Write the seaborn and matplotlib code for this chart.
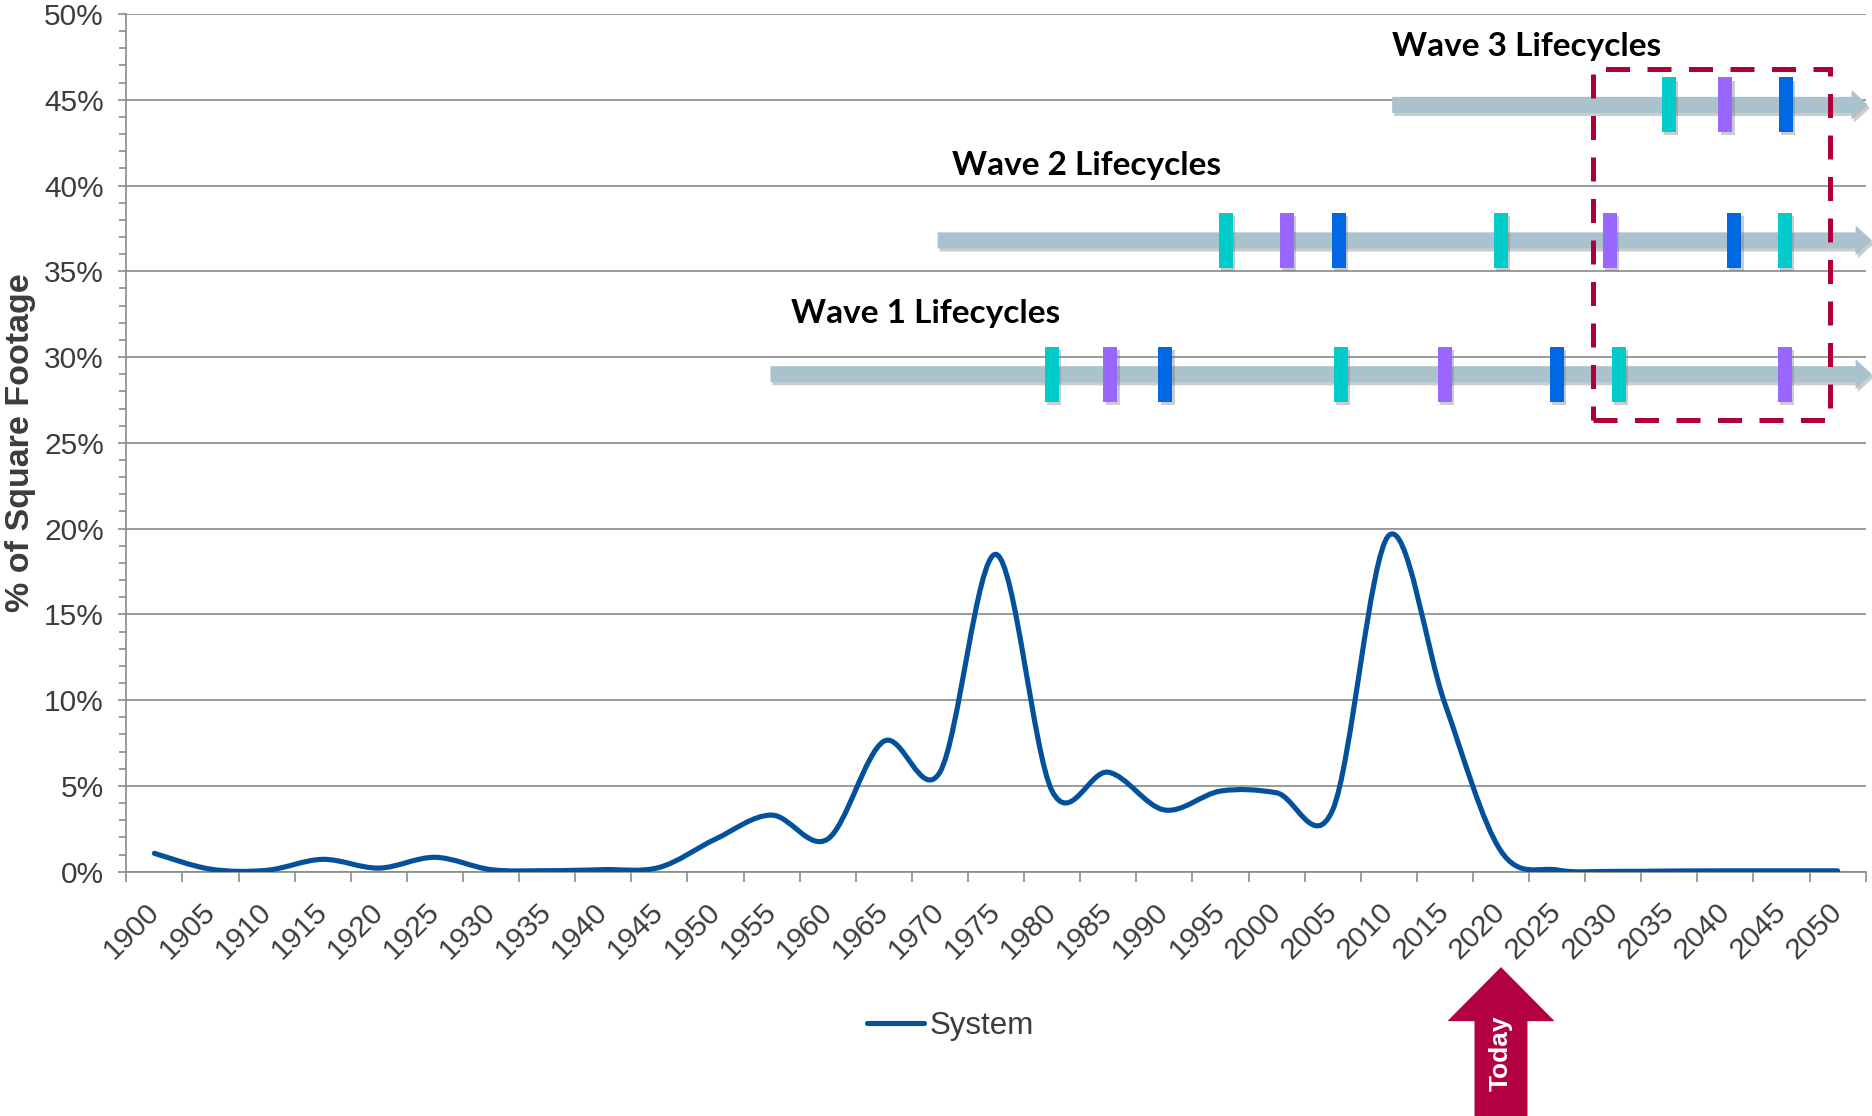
import numpy as np
import pandas as pd
import matplotlib
matplotlib.use("Agg")
import matplotlib.pyplot as plt
import matplotlib.patheffects as pe
import seaborn as sns
from matplotlib.path import Path
from matplotlib.patches import PathPatch, Polygon, Rectangle
from matplotlib.lines import Line2D
from matplotlib.ticker import MultipleLocator, FixedLocator, FuncFormatter

# ---- data -------------------------------------------------------------
years = list(range(1900, 2051, 5))
share = [1.07, 0.15, 0.08, 0.72, 0.21, 0.84, 0.12, 0.06, 0.12, 0.25,
         1.9, 3.3, 1.9, 7.6, 5.8, 18.5, 4.7, 5.8, 3.6, 4.7,
         4.6, 3.6, 19.6, 9.8, 1.2, 0.1, 0.02, 0.04, 0.05, 0.05, 0.05]
series_name = "System"

# lifecycle renewals (year markers) for each construction wave
wave_titles = ["Wave 1 Lifecycles", "Wave 2 Lifecycles", "Wave 3 Lifecycles"]
wave_start = [1954.9, 1969.8, 2010.3]
wave1_cyan, wave1_purple, wave1_blue = [1980.0, 2005.7, 2030.5], [1985.2, 2015.0, 2045.3], [1990.1, 2025.0]
wave2_cyan, wave2_purple, wave2_blue = [1995.5, 2020.0, 2045.3], [2000.9, 2029.7], [2005.6, 2040.8]
wave3_cyan, wave3_purple, wave3_blue = [2035.0], [2040.0], [2045.4]
today_year = 2020

# ---- styling ----------------------------------------------------------
LINE = "#03509B"
GRID = "#8A8A8A"
TXT = "#3C3C3C"
BAND = "#A9C2CE"
CYAN, PURPLE, BLUE = "#00CCCC", "#9966FF", "#0068E3"
CRIMSON = "#B0003C"

sns.set_theme(style="white")
plt.rcParams["font.family"] = ["Liberation Sans", "DejaVu Sans"]

fig = plt.figure(figsize=(18.72, 11.16), dpi=100)
ax = fig.add_axes([0.06747, 0.21891, 0.92917, 0.76855])


def smooth_path(xy):
    """Cubic Bezier through every point (Catmull-Rom style smoothing)."""
    pts = np.asarray(xy, dtype=float)
    n = len(pts)
    verts, codes = [pts[0]], [Path.MOVETO]
    for i in range(n - 1):
        p0 = pts[i - 1] if i > 0 else pts[i]
        p1, p2 = pts[i], pts[i + 1]
        p3 = pts[i + 2] if i + 2 < n else pts[i + 1]
        verts += [p1 + (p2 - p0) / 6.0, p2 - (p3 - p1) / 6.0, p2]
        codes += [Path.CURVE4] * 3
    return Path(verts, codes)


# ---- main series ------------------------------------------------------
df = pd.DataFrame({"year": years, "share": share})
sns.lineplot(data=df, x="year", y="share", ax=ax, color=LINE, linewidth=3.7,
             legend=False)
raw = ax.lines[-1]
curve = PathPatch(smooth_path(raw.get_xydata()), facecolor="none", edgecolor=LINE,
                  lw=3.7, capstyle="round", joinstyle="round", zorder=4)
ax.add_patch(curve)
raw.remove()

# ---- axes -------------------------------------------------------------
ax.set_xlim(1897.5, 2052.5)
ax.set_ylim(0, 50)
ax.set_xlabel("")
ax.set_ylabel("% of Square Footage", fontsize=24.5, fontweight="bold", color=TXT)
ax.yaxis.label.set_verticalalignment("center")
ax.yaxis.set_label_coords(-0.0610, 0.5)

ax.yaxis.set_major_locator(MultipleLocator(5))
ax.yaxis.set_minor_locator(MultipleLocator(1))
ax.yaxis.set_major_formatter(FuncFormatter(lambda v, _: f"{v:.0f}%"))

ax.set_xticks(years)
ax.set_xticklabels([str(y) for y in years], rotation=45, ha="right",
                   va="center", rotation_mode="anchor")
ax.xaxis.set_minor_locator(FixedLocator(np.arange(1897.5, 2053.0, 5)))

ax.tick_params(axis="x", which="major", length=0, pad=26, labelsize=21.5,
               labelcolor=TXT)
ax.tick_params(axis="x", which="minor", length=7.2, width=1.2, color=GRID,
               direction="out", bottom=True)
ax.tick_params(axis="y", which="major", length=6.1, width=1.2, color=GRID,
               direction="out", left=True, pad=10, labelsize=21.5, labelcolor=TXT)
ax.tick_params(axis="y", which="minor", length=4.7, width=1.2, color=GRID,
               direction="out", left=True)

ax.grid(axis="y", which="major", color=GRID, lw=1.2)
ax.grid(axis="x", visible=False)
for side in ("top", "right"):
    ax.spines[side].set_visible(False)
for side in ("left", "bottom"):
    ax.spines[side].set_color(GRID)
    ax.spines[side].set_linewidth(1.2)

# ---- lifecycle wave timelines -----------------------------------------
wave_level = [29.0, 36.8, 44.7]
wave_tip = [2053.05, 2053.05, 2052.7]
wave_marks = [
    [(wave1_cyan, CYAN), (wave1_purple, PURPLE), (wave1_blue, BLUE)],
    [(wave2_cyan, CYAN), (wave2_purple, PURPLE), (wave2_blue, BLUE)],
    [(wave3_cyan, CYAN), (wave3_purple, PURPLE), (wave3_blue, BLUE)],
]
wave_title_xy = [(1968.7, 32.0), (1983.1, 40.6), (2022.3, 47.55)]

band_half, head_half, head_len = 0.47, 0.87, 1.45
mark_w, mark_h = 1.25, 3.2
shadow = [pe.SimplePatchShadow(offset=(1.5, -2.2), shadow_rgbFace="#6f6f6f",
                               alpha=0.35), pe.Normal()]

for start, lvl, tip, marks, title, (tx, ty) in zip(
        wave_start, wave_level, wave_tip, wave_marks, wave_titles, wave_title_xy):
    hx = tip - head_len
    band = Polygon([(start, lvl - band_half), (hx, lvl - band_half),
                    (hx, lvl - head_half), (tip, lvl), (hx, lvl + head_half),
                    (hx, lvl + band_half), (start, lvl + band_half)],
                   closed=True, facecolor=BAND, edgecolor="none", zorder=3,
                   clip_on=False, path_effects=shadow)
    ax.add_patch(band)
    for yrs, col in marks:
        for yr in yrs:
            ax.add_patch(Rectangle((yr - mark_w / 2, lvl - mark_h / 2), mark_w,
                                   mark_h, facecolor=col, edgecolor="none",
                                   zorder=5, path_effects=shadow))
    ax.text(tx, ty, title, ha="center", va="baseline", fontsize=24,
            fontweight="bold", family=["Lato", "DejaVu Sans"], color="black",
            zorder=6)

# highlighted future window
ax.add_patch(Rectangle((2028.16, 26.36), 2049.34 - 2028.16, 46.77 - 26.36,
                       facecolor="none", edgecolor=CRIMSON, lw=3.6,
                       linestyle=(0, (4.8, 3.5)), zorder=7, clip_on=False))

# "Today" marker below the axis
tip_y, base_y, foot_y = -5.56, -8.71, -14.6
head_hw, shaft_hw = 4.77, 2.36
ax.add_patch(Polygon([(today_year, tip_y), (today_year - head_hw, base_y),
                      (today_year - shaft_hw, base_y), (today_year - shaft_hw, foot_y),
                      (today_year + shaft_hw, foot_y), (today_year + shaft_hw, base_y),
                      (today_year + head_hw, base_y)],
                     closed=True, facecolor="#B30040", edgecolor="none",
                     clip_on=False, zorder=6))
ax.text(today_year, -10.6, "Today", rotation=90, ha="center", va="center",
        fontsize=19, fontweight="bold", color="white", zorder=7, clip_on=False)

# ---- legend -----------------------------------------------------------
handle = Line2D([], [], color=LINE, lw=3.7, solid_capstyle="round")
ax.legend(handles=[handle], labels=[series_name], loc="center",
          bbox_to_anchor=(0.5075, 0.0805), bbox_transform=fig.transFigure,
          frameon=False, fontsize=22.5, handlelength=1.85, handletextpad=0.15,
          labelcolor=TXT)

fig.savefig("out.png", dpi=100, facecolor="white")
